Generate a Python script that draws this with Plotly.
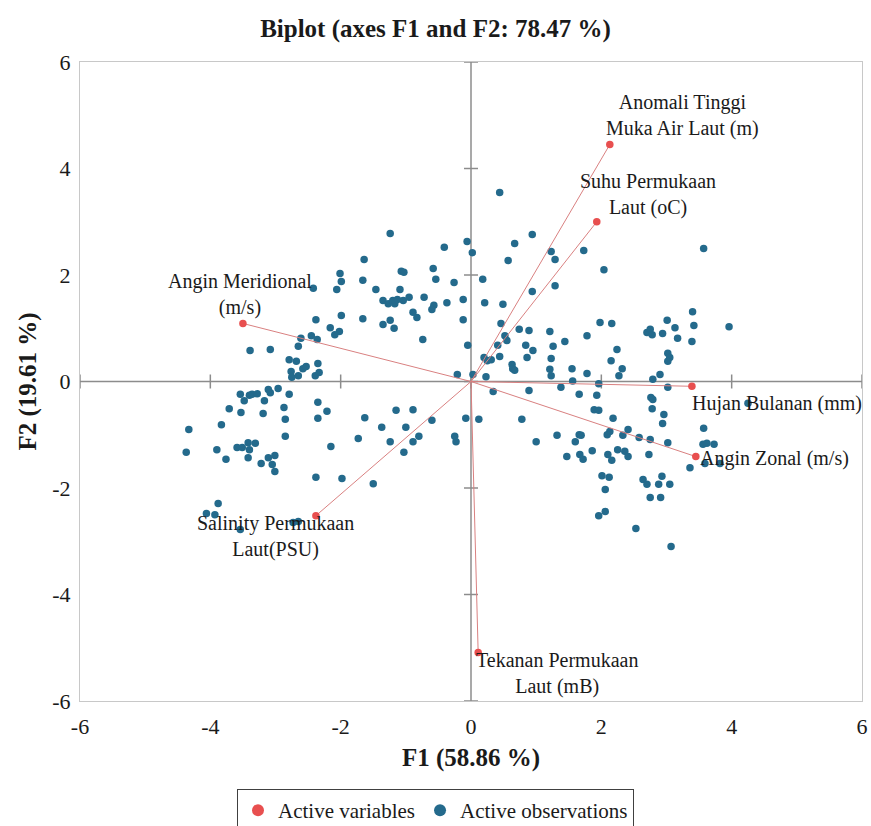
import plotly.graph_objects as go

# Active variables: loadings on F1 / F2
var_names = [
    "Anomali Tinggi<br>Muka Air Laut (m)",
    "Suhu Permukaan<br>Laut (oC)",
    "Angin Meridional<br>(m/s)",
    "Hujan Bulanan (mm)",
    "Angin Zonal (m/s)",
    "Salinity Permukaan<br>Laut(PSU)",
    "Tekanan Permukaan<br>Laut (mB)",
]
var_f1 = [2.13, 1.93, -3.50, 3.39, 3.45, -2.38, 0.11]
var_f2 = [4.45, 3.00, 1.09, -0.09, -1.41, -2.52, -5.09]

# Active observations: scores on F1 / F2
obs_f1 = [
    -2.42, -2.38, -2.61, -2.45, -2.36, -2.65, -3.08, -3.39, -2.79, -2.68,
    -2.58, -2.53, -2.35, -2.76, -2.75, -2.65, -2.39, -2.33, -3.54, -3.48,
    -3.40, -3.36, -3.28, -3.17, -3.11, -3.08, -2.96, -2.79, -2.35, -3.71,
    -3.53, -3.19, -2.87, -2.85, -2.35, -3.83, -4.33, -2.85, -3.42, -3.31,
    -3.59, -3.51, -3.40, -3.90, -4.37, -3.76, -3.42, -3.11, -3.01, -3.22,
    -3.05, -3.01, -2.38, -3.88, -4.06, -3.93, -2.73, -3.54, -2.65,
    -1.24, -0.41, -0.06, -1.64, -2.01, -1.99, -1.66, -1.07, -1.03, -0.58,
    -0.54, -0.26, -2.06, -1.46, -1.09, -0.72, -1.35, -1.27, -1.20, -1.17,
    -1.13, -1.04, -0.95, -0.37, -0.12, -0.57, -0.60, -0.89, -0.83, -1.99,
    -1.66, -1.24, -1.35, -1.18, -0.12, -2.16, -2.02, -2.09, -0.74, -0.05,
    -0.21, -2.21, -1.63, -1.15, -0.89, -1.37, -1.00, -0.60, -0.08, -1.73,
    -1.24, -0.80, -0.89, -0.25, -0.23, -2.15, -1.03, -1.98, -1.50,
    0.44, 0.02, 0.94, 0.67, 1.23, 1.73, 0.57, 1.29, 2.04, 0.18,
    1.29, 0.94, 0.21, 0.49, 0.46, 1.98, 2.16, 0.74, 0.89, 1.21,
    0.52, 0.55, 1.78, 1.44, 0.41, 0.84, 1.26, 0.95, 2.24,
    0.20, 0.25, 0.31, 0.44, 0.63, 0.64, 0.67, 0.86, 1.23, 1.21,
    1.23, 1.55, 1.78, 2.15, 2.32, 2.27, 0.03, 0.23, 1.56, 1.96,
    0.34, 0.89, 1.38, 1.66, 1.93, 1.89, 1.96, 0.12, 0.78, 2.18,
    2.41, 2.13, 2.09, 2.33, 1.00, 1.32, 1.66, 1.69, 1.60, 1.86,
    2.25, 2.36, 2.41, 2.10, 2.16, 1.47, 1.67, 1.72, 2.01, 2.12,
    2.06, 2.06, 1.96,
    3.57, 3.40, 3.01, 3.13, 3.42, 3.96, 2.70, 2.75, 2.78, 2.94,
    3.17, 3.39, 3.02, 3.05, 3.02,
    2.79, 2.90, 3.02, 2.76, 2.79, 2.78, 2.96, 2.94, 2.58, 2.75,
    3.02, 3.57, 3.56, 3.62, 3.73, 2.73, 3.36, 3.59, 3.82, 2.64,
    2.70, 2.93, 2.88, 3.05, 2.75, 2.91, 2.53, 3.07, 4.25,
]
obs_f2 = [
    1.75, 1.16, 0.81, 0.86, 0.79, 0.66, 0.60, 0.58, 0.41, 0.38,
    0.24, 0.28, 0.34, 0.19, 0.08, 0.11, 0.11, 0.17, -0.24, -0.36,
    -0.26, -0.24, -0.23, -0.36, -0.15, -0.21, -0.13, -0.24, -0.39, -0.51,
    -0.58, -0.60, -0.49, -0.71, -0.69, -0.81, -0.90, -1.03, -1.15, -1.16,
    -1.24, -1.24, -1.28, -1.28, -1.33, -1.46, -1.43, -1.43, -1.39, -1.54,
    -1.56, -1.69, -1.80, -2.29, -2.48, -2.50, -2.65, -2.78, -2.63,
    2.78, 2.52, 2.63, 2.29, 2.03, 1.88, 1.90, 2.07, 2.05, 2.12,
    1.92, 1.86, 1.73, 1.73, 1.73, 1.58, 1.52, 1.46, 1.52, 1.46,
    1.54, 1.52, 1.58, 1.48, 1.54, 1.43, 1.35, 1.30, 1.20, 1.24,
    1.18, 1.15, 1.07, 1.00, 1.16, 1.01, 0.94, 0.88, 0.79, 0.68,
    0.13, -0.56, -0.68, -0.54, -0.53, -0.86, -0.86, -0.73, -0.69, -1.07,
    -1.13, -1.03, -1.13, -1.03, -1.13, -1.22, -1.33, -1.82, -1.92,
    3.55, 2.42, 2.76, 2.59, 2.44, 2.46, 2.27, 2.29, 2.10, 1.92,
    1.80, 1.69, 1.48, 1.45, 1.09, 1.11, 1.09, 0.98, 0.96, 0.94,
    0.86, 0.77, 0.86, 0.75, 0.68, 0.68, 0.66, 0.58, 0.60,
    0.45, 0.39, 0.41, 0.47, 0.32, 0.24, 0.21, 0.45, 0.43, 0.23,
    0.11, 0.24, 0.15, 0.39, 0.24, 0.11, 0.13, 0.09, 0.01, -0.04,
    -0.19, -0.17, -0.11, -0.24, -0.26, -0.53, -0.54, -0.71, -0.71, -0.69,
    -0.90, -0.94, -1.00, -1.01, -1.13, -1.01, -1.00, -1.01, -1.13, -1.30,
    -1.28, -1.31, -1.41, -1.37, -1.48, -1.41, -1.37, -1.46, -1.77, -1.80,
    -2.03, -2.44, -2.52,
    2.50, 1.31, 1.15, 1.01, 1.05, 1.03, 0.92, 0.98, 0.88, 0.90,
    0.81, 0.75, 0.53, 0.45, 0.38,
    0.04, 0.13, -0.11, -0.30, -0.34, -0.51, -0.62, -0.79, -1.05, -1.09,
    -1.15, -0.88, -1.18, -1.16, -1.18, -1.37, -1.62, -1.54, -1.54, -1.84,
    -1.93, -1.78, -1.93, -1.93, -2.18, -2.18, -2.76, -3.10, -0.41,
]

tick_vals = [-6, -4, -2, 0, 2, 4, 6]
tick_text = [str(v) for v in tick_vals]

title_text = "Biplot (axes F1 and F2: 78.47 %)"
x_title = "F1 (58.86 %)"
y_title = "F2 (19.61 %)"

FONT = "Liberation Serif, Times New Roman, serif"
TEXT_COLOR = "#1a1a1a"
OBS_COLOR = "#246a8c"
VAR_COLOR = "#e84f4f"
VEC_COLOR = "#d98080"
AXIS_COLOR = "#8c8c8c"

# label placement for each variable: (xanchor, yanchor, xshift, yshift)
label_pos = [
    ("center", "bottom", 73, 3),
    ("center", "bottom", 51, 1),
    ("center", "bottom", -3, 2),
    ("left", "middle", -2, -17),
    ("left", "middle", 2, -2),
    ("center", "top", -40, 6),
    ("center", "top", 79, 6),
]

fig = go.Figure()

# vectors from the origin to each variable
vec_x, vec_y = [], []
for fx, fy in zip(var_f1, var_f2):
    vec_x += [0, fx, None]
    vec_y += [0, fy, None]

fig.add_trace(go.Scatter(
    x=obs_f1, y=obs_f2, mode="markers", name="Active observations",
    marker=dict(color=OBS_COLOR, size=7.5), legendrank=2,
))
fig.add_trace(go.Scatter(
    x=vec_x, y=vec_y, mode="lines", showlegend=False, hoverinfo="skip",
    line=dict(color=VEC_COLOR, width=1),
))
fig.add_trace(go.Scatter(
    x=var_f1, y=var_f2, mode="markers", name="Active variables",
    marker=dict(color=VAR_COLOR, size=7.5), legendrank=1,
))

for name, fx, fy, (xa, ya, xs, ys) in zip(var_names, var_f1, var_f2, label_pos):
    fig.add_annotation(
        x=fx, y=fy, text=name, showarrow=False, xanchor=xa, yanchor=ya,
        xshift=xs, yshift=ys, align="center",
        font=dict(family=FONT, size=20, color=TEXT_COLOR),
    )

# central axes through the origin with crossing tick marks
shapes = [
    dict(type="line", xref="x", yref="y", x0=0, x1=0, y0=tick_vals[0], y1=tick_vals[-1],
         line=dict(color=AXIS_COLOR, width=1.5), layer="below"),
    dict(type="line", xref="x", yref="y", x0=tick_vals[0], x1=tick_vals[-1], y0=0, y1=0,
         line=dict(color=AXIS_COLOR, width=1.5), layer="below"),
]
for v in tick_vals:
    shapes.append(dict(type="line", xref="x", yref="y", xsizemode="pixel", xanchor=0,
                       x0=-7, x1=7, y0=v, y1=v, line=dict(color=AXIS_COLOR, width=1.5),
                       layer="below"))
    shapes.append(dict(type="line", xref="x", yref="y", ysizemode="pixel", yanchor=0,
                       y0=-7, y1=7, x0=v, x1=v, line=dict(color=AXIS_COLOR, width=1.5),
                       layer="below"))

axis_common = dict(
    range=[tick_vals[0], tick_vals[-1]], tickvals=tick_vals, ticktext=tick_text,
    showgrid=False, zeroline=False, ticks="", showline=True, mirror=True,
    linecolor="#c8c8c8", linewidth=1, automargin=False,
    tickfont=dict(family=FONT, size=22, color=TEXT_COLOR),
)

fig.update_layout(
    width=871, height=826,
    margin=dict(l=80, r=9, t=62, b=125),
    paper_bgcolor="white", plot_bgcolor="white",
    title=dict(text="<b>" + title_text + "</b>", x=0.5, xref="container", xanchor="center",
               y=1 - 28 / 826, yref="container", yanchor="middle",
               font=dict(family=FONT, size=25, color=TEXT_COLOR)),
    xaxis=dict(**axis_common, title=dict(text="<b>" + x_title + "</b>", standoff=10,
                                        font=dict(family=FONT, size=25, color=TEXT_COLOR)),
               ticklabelstandoff=6),
    yaxis=dict(**axis_common, title=dict(text="<b>" + y_title + "</b>", standoff=8,
                                        font=dict(family=FONT, size=25, color=TEXT_COLOR)),
               ticklabelstandoff=4),
    shapes=shapes,
    showlegend=True,
    legend=dict(orientation="h", xref="container", yref="container", x=0.5, xanchor="center",
                y=1 - 789 / 826, yanchor="top", bordercolor="#404040", borderwidth=1,
                itemsizing="constant", itemwidth=30, tracegroupgap=0,
                font=dict(family=FONT, size=21, color=TEXT_COLOR)),
)

fig.write_html("out.html")
